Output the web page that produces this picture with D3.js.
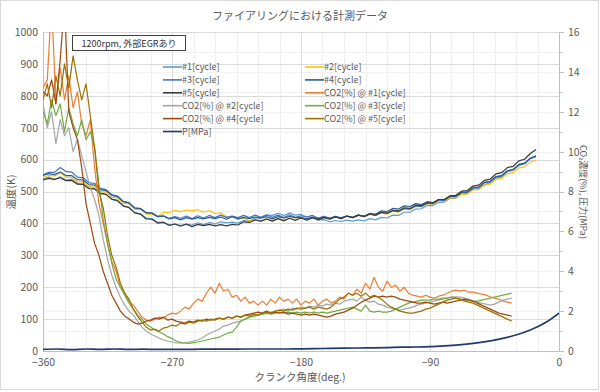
<!DOCTYPE html>
<html><head><meta charset="utf-8">
<script src="https://cdn.jsdelivr.net/npm/d3@7"></script>
<style>body{margin:0;background:#fff} svg{display:block}</style>
</head><body><svg id="c" width="600" height="392"></svg>
<script>
// ---------- DATA ----------
const titleText = "ファイアリングにおける計測データ";
const noteText = "1200rpm, 外部EGRあり";
const xTitle = "クランク角度(deg.)";
const yLeftTitle = "温度(K)";
const yRightTitle = "CO₂濃度(%), 圧力(MPa)";
const xTicks = [-360, -270, -180, -90, 0];
const yLeftTicks = [0, 100, 200, 300, 400, 500, 600, 700, 800, 900, 1000];
const yRightTicks = [0, 2, 4, 6, 8, 10, 12, 14, 16];

const angleT = [-360,-356,-352,-348,-344,-340,-336,-332,-328,-324,-320,-316,-312,-308,-304,-300,-296,-292,-288,-284,-280,-276,-272,-268,-264,-260,-256,-252,-248,-244,-240,-236,-232,-228,-224,-220,-216,-212,-208,-204,-200,-196,-192,-188,-184,-180,-176,-172,-168,-164,-160,-156,-152,-148,-144,-140,-136,-132,-128,-124,-120,-116,-112,-108,-104,-100,-96,-92,-88,-84,-80,-76,-72,-68,-64,-60,-56,-52,-48,-44,-40,-36,-32,-28,-24,-20,-16];

const T1 = [538,545,537,546,536,538,525,524,511,509,
494,491,475,470,454,449,434,430,417,415,
403,404,395,398,394,397,395,402,396,403,
398,405,402,404,401,409,407,417,418,426,
425,432,425,433,426,428,420,420,411,412,
405,409,406,410,407,411,408,415,411,419,
417,426,425,435,435,445,446,456,456,466,
467,478,479,492,494,507,509,522,527,542,
546,562,567,582,588,603,610];
const T2 = [544,550,549,559,545,544,530,530,516,514,
499,499,482,480,463,461,444,444,429,429,
421,435,434,441,437,442,439,443,435,440,
431,433,421,422,413,416,408,413,406,413,
408,415,411,416,412,417,413,418,414,419,
415,420,416,423,418,426,421,429,425,433,
429,438,435,445,443,453,452,462,460,470,
469,480,480,492,492,505,506,520,523,538,
541,556,559,574,577,593,598];
const T3 = [552,560,560,575,563,561,545,543,528,525,
510,506,490,486,469,465,449,447,434,433,
422,424,416,421,416,423,415,424,417,425,
418,426,419,423,418,425,418,426,419,427,
419,426,418,427,419,424,420,425,417,422,
417,421,418,423,419,426,421,429,425,434,
431,440,437,447,445,455,453,463,462,473,
472,484,484,497,498,512,514,529,532,547,
550,565,568,583,587,603,610];
const T4 = [550,556,553,561,550,550,537,536,522,520,
506,503,488,484,468,464,448,446,433,432,
421,423,414,418,411,418,413,418,414,419,
415,420,413,421,414,419,415,420,416,421,
414,421,417,422,418,419,414,419,415,420,
415,422,415,423,418,426,422,431,429,439,
437,447,445,455,453,462,459,468,465,475,
474,485,485,497,498,511,513,528,531,546,
549,565,569,585,589,605,612];
const T5 = [536,541,538,543,534,535,523,522,509,508,
494,491,476,472,455,450,433,429,414,413,
401,403,394,398,391,398,390,397,393,397,
392,396,392,397,395,405,403,411,407,414,
407,415,408,416,409,417,410,418,411,418,
413,420,415,423,418,426,422,430,426,435,
432,441,439,449,447,457,455,465,464,475,
475,487,488,501,503,517,520,535,539,555,
559,575,579,596,601,619,632];

const angleC = [-360,-357,-354,-351,-348,-345,-342,-339,-336,-333,
-330,-327,-324,-321,-318,-315,-312,-309,-306,-303,
-300,-297,-294,-291,-288,-285,-282,-279,-276,-273,
-270,-267,-264,-261,-258,-255,-252,-249,-246,-243,
-240,-237,-234,-231,-228,-225,-222,-219,-216,-213,
-210,-207,-204,-201,-198,-195,-192,-189,-186,-183,
-180,-177,-174,-171,-168,-165,-162,-159,-156,-153,
-150,-147,-144,-141,-138,-135,-132,-129,-126,-123,
-120,-117,-114,-111,-108,-105,-102,-99,-96,-93,
-90,-87,-84,-81,-78,-75,-72,-69,-66,-63,
-60,-57,-54,-51,-48,-45,-42,-39,-36,-33];

const C1 = [13.2,13.6,17.5,12.4,14.2,12.6,13.8,12.2,13.0,11.4,
10.8,11.6,9.2,7.4,6.4,5.4,4.5,4.0,3.2,2.9,
2.5,2.3,2.0,1.7,1.55,1.5,1.6,1.7,1.65,1.8,
1.9,1.85,2.0,2.2,2.1,2.4,2.6,2.5,2.9,3.2,
2.9,3.4,3.0,3.1,2.7,2.8,2.5,2.7,2.4,2.5,
2.3,2.5,2.3,2.6,2.4,2.7,2.5,2.6,2.4,2.6,
2.3,2.5,2.4,2.6,2.3,2.5,2.6,2.4,2.5,2.7,
2.6,2.9,2.8,3.1,2.9,3.4,3.1,3.7,3.2,3.0,
3.5,3.2,3.3,3.0,3.2,2.9,2.8,2.75,2.7,2.8,
2.7,2.65,2.75,2.8,2.9,3.0,3.05,3.0,3.05,2.95,
2.95,2.9,2.85,2.8,2.72,2.65,2.6,2.5,2.45,2.4];
const C2 = [12.4,11.2,12.0,10.4,11.6,10.8,11.2,10.0,10.6,9.8,
9.0,8.2,7.6,6.8,5.6,4.6,3.8,3.2,2.7,2.3,
2.0,1.8,1.5,1.2,1.0,0.85,0.75,0.65,0.55,0.5,
0.45,0.4,0.42,0.4,0.45,0.5,0.55,0.65,0.8,0.9,
1.0,1.1,1.25,1.3,1.4,1.45,1.5,1.6,1.7,1.75,
1.8,1.85,1.9,1.95,2.0,2.05,2.1,2.0,2.15,2.1,
2.2,2.15,2.25,2.2,2.3,2.25,2.35,2.3,2.4,2.35,
2.5,2.55,2.6,2.5,2.7,2.55,2.45,2.5,2.35,2.3,
2.2,2.15,2.1,2.05,2.1,2.15,2.2,2.3,2.35,2.4,
2.45,2.5,2.55,2.6,2.65,2.7,2.72,2.7,2.65,2.6,
2.5,2.45,2.4,2.35,2.3,2.35,2.45,2.55,2.6,2.65];
const C3 = [12.0,11.4,12.6,11.8,12.4,11.0,12.2,11.4,10.8,11.6,
10.6,11.0,10.2,8.4,6.6,5.4,4.4,3.6,3.2,2.8,
2.4,2.1,1.8,1.6,1.35,1.2,1.05,0.95,0.85,0.72,
0.62,0.5,0.42,0.4,0.38,0.42,0.45,0.5,0.55,0.6,
0.65,0.7,0.8,0.9,0.95,1.2,1.5,1.6,1.7,1.75,
1.8,1.85,1.9,1.85,1.9,1.95,1.9,1.95,1.9,1.95,
1.9,1.95,1.9,1.95,1.9,1.95,1.9,1.95,2.0,2.05,
2.1,2.15,2.2,2.1,2.0,2.3,2.0,1.95,2.0,1.95,
1.95,2.0,2.1,2.2,2.3,2.4,2.45,2.5,2.55,2.55,
2.55,2.6,2.6,2.65,2.65,2.7,2.65,2.6,2.55,2.55,
2.5,2.5,2.55,2.6,2.65,2.7,2.75,2.8,2.85,2.9];
const C4 = [13.0,12.8,13.6,12.4,14.6,17.5,12.0,11.2,10.6,9.2,
7.4,6.4,5.4,4.8,4.0,3.4,2.8,2.4,2.0,1.75,
1.6,1.45,1.35,1.4,1.5,1.55,1.65,1.6,1.7,1.55,
1.6,1.5,1.45,1.4,1.5,1.45,1.55,1.5,1.6,1.55,
1.6,1.65,1.6,1.7,1.65,1.75,1.7,1.8,1.85,1.9,
1.95,1.9,2.0,1.9,1.95,1.9,1.95,1.85,1.9,1.85,
1.8,1.85,1.8,1.85,1.8,1.75,1.7,1.75,1.85,1.9,
1.95,2.05,2.15,2.3,2.45,2.55,2.65,2.75,2.7,2.75,
2.7,2.75,2.7,2.6,2.55,2.5,2.45,2.4,2.4,2.45,
2.4,2.35,2.4,2.45,2.4,2.45,2.5,2.55,2.6,2.55,
2.5,2.4,2.3,2.2,2.1,2.0,1.9,1.85,1.8,1.75];
const C5 = [12.6,13.4,12.2,13.8,12.8,14.4,13.2,14.8,13.6,12.6,
13.4,11.8,10.2,8.0,7.2,5.8,4.8,4.2,3.4,2.9,
2.6,2.1,1.75,1.45,1.2,1.05,1.1,1.0,1.15,1.2,
1.3,1.25,1.4,1.35,1.45,1.4,1.5,1.55,1.5,1.6,
1.55,1.65,1.6,1.7,1.65,1.75,1.7,1.8,1.75,1.85,
1.8,1.9,1.95,1.9,2.0,2.05,2.0,2.1,2.05,2.15,
2.1,2.15,2.2,2.1,2.2,2.15,2.1,2.2,2.4,2.6,
2.7,2.9,2.8,2.9,2.75,2.9,2.7,2.8,2.7,2.55,
2.35,2.2,2.1,2.0,1.95,1.9,1.9,1.95,2.0,2.1,
2.15,2.25,2.35,2.45,2.55,2.6,2.65,2.6,2.5,2.45,
2.4,2.3,2.2,2.1,2.0,1.9,1.8,1.7,1.6,1.5];

const angleP = [-360,-350,-340,-330,-320,-310,-300,-290,-280,-270,-260,-250,-240,-230,-220,-210,-200,-190,-180,-170,-160,-150,-140,-130,-120,-110,-100,-90,-80,-70,-60,-50,-40,-30,-20,-10,0];
const P = [0.08,0.1,0.07,0.1,0.08,0.1,0.08,0.09,0.08,0.08,
0.08,0.09,0.09,0.09,0.1,0.1,0.1,0.1,0.11,0.12,
0.13,0.14,0.15,0.16,0.17,0.19,0.2,0.22,0.26,0.31,
0.38,0.48,0.62,0.8,1.05,1.4,1.9];

const seriesNames = ["#1[cycle]","#2[cycle]","#3[cycle]","#4[cycle]","#5[cycle]",
  "CO2[%] @ #1[cycle]","CO2[%] @ #2[cycle]","CO2[%] @ #3[cycle]","CO2[%] @ #4[cycle]","CO2[%] @ #5[cycle]","P[MPa]"];
const seriesColors = ["#5B9BD5","#FFC000","#4472C4","#255E91","#3A3A3A",
  "#ED7D31","#A5A5A5","#70AD47","#9E480E","#997300","#203A6E"];

// ---------- CHART ----------
const FONT = '"Noto Sans CJK JP", "Noto Sans", sans-serif';
const svg = d3.select('#c');
const m = {l:43, r:559, t:32, b:351};
const x = d3.scaleLinear().domain([-360,0]).range([m.l,m.r]);
const yL = d3.scaleLinear().domain([0,1000]).range([m.b,m.t]);
const yR = d3.scaleLinear().domain([0,16]).range([m.b,m.t]);

svg.append('rect').attr('x',0.5).attr('y',0.5).attr('width',598).attr('height',389)
  .attr('fill','#fff').attr('stroke','#d9d9d9');

// gridlines
const grid = svg.append('g');
grid.selectAll('line.vmin').data(d3.range(-345,0,15)).join('line')
  .attr('x1',d=>Math.round(x(d))+0.5).attr('x2',d=>Math.round(x(d))+0.5).attr('y1',m.t).attr('y2',m.b)
  .attr('stroke','#efefef').attr('stroke-width',1);
grid.selectAll('line.hmin').data(d3.range(1,16,1)).join('line')
  .attr('x1',m.l).attr('x2',m.r).attr('y1',d=>Math.round(yR(d))+0.5).attr('y2',d=>Math.round(yR(d))+0.5)
  .attr('stroke','#f1f1f1').attr('stroke-width',1);
grid.selectAll('line.hmaj').data(yLeftTicks.slice(1)).join('line')
  .attr('x1',m.l).attr('x2',m.r).attr('y1',d=>Math.round(yL(d))+0.5).attr('y2',d=>Math.round(yL(d))+0.5)
  .attr('stroke','#dadada').attr('stroke-width',1);
grid.selectAll('line.vmaj').data(xTicks.slice(1,4)).join('line')
  .attr('x1',d=>Math.round(x(d))+0.5).attr('x2',d=>Math.round(x(d))+0.5).attr('y1',m.t).attr('y2',m.b)
  .attr('stroke','#dadada').attr('stroke-width',1);

// axis lines
svg.append('line').attr('x1',m.l+0.5).attr('x2',m.l+0.5).attr('y1',m.t).attr('y2',m.b).attr('stroke','#bfbfbf');
svg.append('line').attr('x1',m.r+0.5).attr('x2',m.r+0.5).attr('y1',m.t).attr('y2',m.b).attr('stroke','#bfbfbf');
svg.append('line').attr('x1',m.l).attr('x2',m.r).attr('y1',m.b+0.5).attr('y2',m.b+0.5).attr('stroke','#bfbfbf');
// right ticks
svg.selectAll('line.rt').data(d3.range(0,17,1)).join('line')
  .attr('x1',m.r).attr('x2',d=> d%2===0 ? m.r+5 : m.r+3)
  .attr('y1',d=>Math.round(yR(d))+0.5).attr('y2',d=>Math.round(yR(d))+0.5).attr('stroke','#bfbfbf');

function styleAxis(g){
  g.select('.domain').remove();
  g.selectAll('.tick line').remove();
  g.selectAll('text').attr('fill','#595959').style('font-family',FONT).style('font-size','10.5px');
}
svg.append('g').attr('transform',`translate(${m.l},0)`)
  .call(d3.axisLeft(yL).tickValues(yLeftTicks).tickSize(0).tickPadding(5).tickFormat(d3.format('d'))).call(styleAxis);
svg.append('g').attr('transform',`translate(${m.r},0)`)
  .call(d3.axisRight(yR).tickValues(yRightTicks).tickSize(0).tickPadding(9).tickFormat(d3.format('d'))).call(styleAxis);
svg.append('g').attr('transform',`translate(0,${m.b})`)
  .call(d3.axisBottom(x).tickValues(xTicks).tickSize(0).tickPadding(8).tickFormat(d3.format('d'))).call(styleAxis);

// clip
svg.append('clipPath').attr('id','clip').append('rect')
  .attr('x',m.l).attr('y',m.t).attr('width',m.r-m.l).attr('height',m.b-m.t);
const plot = svg.append('g').attr('clip-path','url(#clip)');

const tempSeries = [T1,T2,T3,T4,T5];
const co2Series = [C1,C2,C3,C4,C5];
const lineT = d3.line().x((d,i)=>x(angleT[i])).y(d=>yL(d));
const lineC = d3.line().x((d,i)=>x(angleC[i])).y(d=>yR(d));
const lineP = d3.line().x((d,i)=>x(angleP[i])).y(d=>yR(d)).curve(d3.curveMonotoneX);

tempSeries.forEach((s,k)=>{
  plot.append('path').attr('d',lineT(s)).attr('fill','none')
    .attr('stroke',seriesColors[k]).attr('stroke-width',1.2).attr('stroke-linejoin','round');
});
co2Series.forEach((s,k)=>{
  plot.append('path').attr('d',lineC(s)).attr('fill','none')
    .attr('stroke',seriesColors[5+k]).attr('stroke-width',1.2).attr('stroke-linejoin','round');
});
plot.append('path').attr('d',lineP(P)).attr('fill','none')
  .attr('stroke',seriesColors[10]).attr('stroke-width',1.7);

// title
svg.append('text').attr('x',300).attr('y',20).attr('text-anchor','middle')
  .attr('fill','#595959').style('font-family',FONT).style('font-size','11px').text(titleText);

// note box
svg.append('rect').attr('x',72.5).attr('y',35.5).attr('width',113).attr('height',15)
  .attr('fill','#fff').attr('stroke','#404040').attr('stroke-width',1);
svg.append('text').attr('x',129).attr('y',46.8).attr('text-anchor','middle')
  .attr('fill','#303030').style('font-family',FONT).style('font-size','9px').text(noteText);

// legend
const leg = svg.append('g');
seriesNames.forEach((name,i)=>{
  const col = i%2, row = Math.floor(i/2);
  const lx = col===0 ? 163 : 305;
  const ly = 67 + row*12.9;
  leg.append('line').attr('x1',lx).attr('x2',lx+19).attr('y1',ly).attr('y2',ly)
    .attr('stroke',seriesColors[i]).attr('stroke-width',1.6);
  leg.append('text').attr('x',lx+19).attr('y',ly+3.4).attr('fill','#595959')
    .style('font-family',FONT).style('font-size','9px').text(name);
});

// axis titles
svg.append('text').attr('x',300).attr('y',381).attr('text-anchor','middle')
  .attr('fill','#595959').style('font-family',FONT).style('font-size','10.5px').text(xTitle);
svg.append('text').attr('transform','translate(15,192) rotate(-90)').attr('text-anchor','middle')
  .attr('fill','#595959').style('font-family',FONT).style('font-size','10.5px').text(yLeftTitle);
svg.append('text').attr('transform','translate(580,192) rotate(90)').attr('text-anchor','middle')
  .attr('fill','#595959').style('font-family',FONT).style('font-size','9px').text(yRightTitle);
</script>
</body></html>
